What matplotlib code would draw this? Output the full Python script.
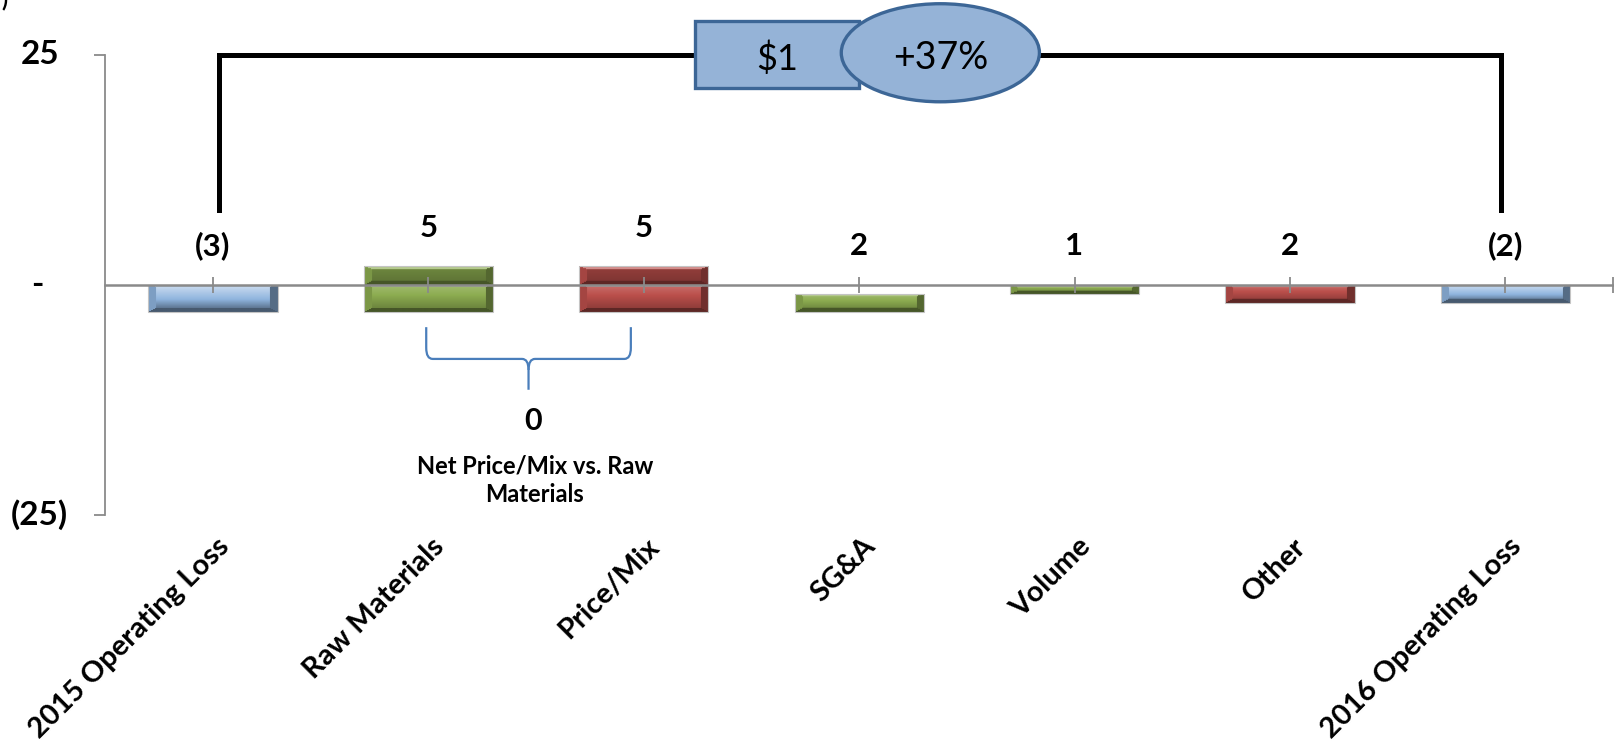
import numpy as np
import matplotlib
matplotlib.use('Agg')
import matplotlib.pyplot as plt
from matplotlib.colors import to_rgb
from matplotlib.patches import Rectangle, Ellipse, PathPatch
from matplotlib.path import Path

plt.rcParams['font.family'] = ['Lato', 'DejaVu Sans']

# operating loss bridge, $ millions
categories = ['2015 Operating Loss', 'Raw Materials', 'Price/Mix', 'SG&A',
              'Volume', 'Other', '2016 Operating Loss']
start_loss = -3
changes = [5, -5, 2, 1, -2]
end_loss = -2
bar_labels = ['(3)', '5', '5', '2', '1', '2', '(2)']
net_price_vs_raw = 0
pct_change = '+37%'

blue = '#8fb4de'
green = '#8cac50'
red = '#bb4f4b'

# build floating bars
bottoms, tops, colors = [], [], []
bottoms.append(min(0, start_loss)); tops.append(max(0, start_loss)); colors.append(blue)
level = start_loss
for c in changes:
    new = level + c
    bottoms.append(min(level, new)); tops.append(max(level, new))
    colors.append(green if c > 0 else red)
    level = new
bottoms.append(min(0, end_loss)); tops.append(max(0, end_loss)); colors.append(blue)

x = np.arange(len(categories))
bw = 0.6

fig = plt.figure(figsize=(16.15, 7.42), dpi=100)
ax = fig.add_axes([105.3 / 1615, 227 / 742, 1507.7 / 1615, 460.4 / 742])
ax.set_xlim(-0.5, 6.5)
ax.set_ylim(-25, 25)
px_x = 1507.7 / 7.0
px_y = 460.4 / 50.0


def shade(rgb, f):
    f = f[..., None]
    return np.where(f >= 0, rgb + (1 - rgb) * f, rgb * (1 + f))


def bevel(nx, ny, color, body_top, body_bot):
    rgb = np.array(to_rgb(color))
    yy, xx = np.mgrid[0:ny, 0:nx] + 0.5
    ds = min(8.0, nx / 2)
    dtop = min(3.0, ny / 3)
    dbot = min(4.0, ny / 3)
    dl, dr = xx / ds, (nx - xx) / ds
    dt, db = yy / dtop, (ny - yy) / dbot
    m = np.minimum.reduce([dl, dr, dt, db])
    f = body_top + (body_bot - body_top) * (yy / ny)
    edge = m < 1
    f = np.where(edge & (dt == m), 0.35, f)
    f = np.where(edge & (db == m), -0.5, f)
    f = np.where(edge & (dl == m), -0.12, f)
    f = np.where(edge & (dr == m), -0.4, f)
    return np.clip(shade(rgb, f), 0, 1)


for xi, b, t, col in zip(x, bottoms, tops, colors):
    # bars crossing zero are drawn as two stacked pieces
    pieces = [(0, t, True), (b, 0, False)] if b < 0 < t else [(b, t, False)]
    for pb, pt, upper in pieces:
        bar = ax.bar(xi, pt - pb, bottom=pb, width=bw, facecolor='none',
                     edgecolor='#c4c4c4', linewidth=0.8, zorder=1.5)[0]
        nx = max(int(round(bw * px_x)), 2)
        ny = max(int(round((pt - pb) * px_y)), 2)
        if col == blue:
            bt, bb = 0.6, -0.5
        elif upper:
            bt, bb = -0.2, -0.35
        else:
            bt, bb = 0.2, -0.3
        img = bevel(nx, ny, col, bt, bb)
        im = ax.imshow(img, extent=(xi - bw / 2, xi + bw / 2, pb, pt),
                       origin='upper', aspect='auto', interpolation='bilinear',
                       zorder=1)
        im.set_clip_path(bar)

# value labels above bars
for xi, t, lab in zip(x, tops, bar_labels):
    ax.text(xi, max(t, 0) + 4.2, lab, ha='center', va='center',
            fontsize=22.5, fontweight='bold', color='black')

# axes styling
gray = '#8a8a8a'
for s in ['top', 'right']:
    ax.spines[s].set_visible(False)
ax.spines['left'].set_color(gray)
ax.spines['left'].set_linewidth(1.3)
ax.spines['bottom'].set_position(('data', 0))
ax.spines['bottom'].set_color(gray)
ax.spines['bottom'].set_linewidth(1.8)
ax.set_xticks(list(x) + [6.5])
ax.tick_params(axis='x', direction='inout', length=11, width=1.3, color=gray,
               labelbottom=False)
ax.set_yticks([-25, 25])
ax.tick_params(axis='y', direction='out', length=8, width=1.3, color=gray,
               labelleft=False)

# y tick labels
for v, lab, dx, ha in [(25, '25', -46, 'right'), (0, '-', -68, 'center'),
                       (-25, '(25)', -37, 'right')]:
    ax.annotate(lab, xy=(0, v), xycoords=('axes fraction', 'data'),
                xytext=(dx * 0.72, 0), textcoords='offset points',
                ha=ha, va='center', fontsize=24, fontweight='bold')

# category labels
for xi, lab in zip(x, categories):
    ax.annotate(lab, xy=(xi, 0), xycoords=('data', 'axes fraction'),
                xytext=(2, -13), textcoords='offset points', rotation=45,
                rotation_mode='anchor', ha='right', va='top',
                fontsize=21, fontweight='bold')

# bracket from 2015 to 2016
ax.plot([x[0] + 0.03, x[0] + 0.03, x[-1] - 0.02, x[-1] - 0.02],
        [8.15, 25, 25, 8.15], color='black', lw=3.6,
        solid_joinstyle='miter', clip_on=False, zorder=3)

box_fc = '#95b3d7'
box_ec = '#3c6696'
ax.add_patch(Rectangle((2.236, 21.4), 0.764, 7.2, facecolor=box_fc,
                       edgecolor=box_ec, lw=2.4, clip_on=False, zorder=4))
ax.add_patch(Ellipse((3.377, 25.2), 0.92, 10.65, facecolor=box_fc,
                     edgecolor=box_ec, lw=2.4, clip_on=False, zorder=5))
ax.text(2.62, 24.6, f'${end_loss - start_loss}', ha='center', va='center',
        fontsize=26, zorder=6)
ax.text(3.377, 24.6, pct_change, ha='center', va='center', fontsize=27,
        zorder=6)

# brace under raw materials / price-mix
xl, xr = x[1] - 0.01, x[2] - 0.06
xm = (xl + xr) / 2
ytop, yh, ybot = -4.6, -8.05, -11.4
rx, ry = 0.03, 1.2
brace_l = Path([(xl, ytop), (xl, yh + ry), (xl, yh), (xl + rx, yh),
                (xm - rx, yh), (xm, yh), (xm, yh - ry), (xm, ybot)],
               [Path.MOVETO, Path.LINETO, Path.CURVE3, Path.CURVE3,
                Path.LINETO, Path.CURVE3, Path.CURVE3, Path.LINETO])
brace_r = Path([(xr, ytop), (xr, yh + ry), (xr, yh), (xr - rx, yh),
                (xm + rx, yh), (xm, yh), (xm, yh - ry)],
               [Path.MOVETO, Path.LINETO, Path.CURVE3, Path.CURVE3,
                Path.LINETO, Path.CURVE3, Path.CURVE3])
for p in (brace_l, brace_r):
    ax.add_patch(PathPatch(p, facecolor='none', edgecolor='#4a7ebb', lw=1.6,
                           zorder=3))
ax.text(xm + 0.02, -14.8, str(net_price_vs_raw), ha='center', va='center',
        fontsize=22, fontweight='bold')
ax.text(xm + 0.03, -21.2, 'Net Price/Mix vs. Raw\nMaterials', ha='center',
        va='center', fontsize=17, fontweight='bold', linespacing=1.3)

fig.text(0.001, 1.0, ')', ha='left', va='center', fontsize=16,
         fontweight='bold')

fig.savefig('out.png', dpi=100, facecolor='white')
